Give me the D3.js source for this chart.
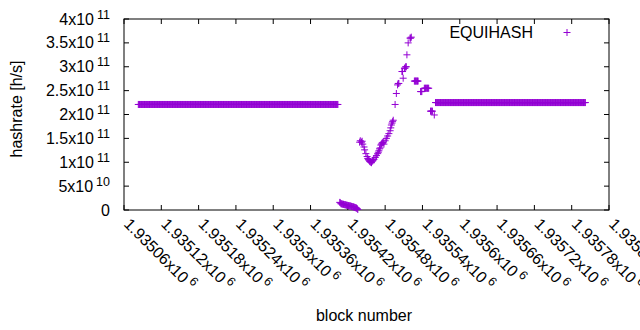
<!DOCTYPE html>
<html>
<head>
<meta charset="utf-8">
<script src="https://cdn.jsdelivr.net/npm/d3@7"></script>
<style>
  body { margin: 0; background: #fff; }
  text { font-family: "Liberation Sans", Arial, sans-serif; fill: #000; }
</style>
</head>
<body>
<div id="chart_area"></div>
<script>
// Hashrate per block.
// Long flat stretches are kept as runs: first block, last block, hashrate.
var flat_first = [1935083, 1935561];
var flat_last = [1935404, 1935802];
var flat_value = [2.21e11, 2.25e11];

// The dip and spike in between, one entry per block.
var mid_blocks = [
  1935407, 1935408, 1935409, 1935410, 1935411, 1935412, 1935413, 1935414, 1935415, 1935416, 1935417,
  1935418, 1935419, 1935420, 1935421, 1935422, 1935423, 1935424, 1935425, 1935426, 1935427,
  1935428, 1935429, 1935430, 1935431, 1935432, 1935433, 1935434, 1935435, 1935436,
  1935439, 1935440, 1935442, 1935443, 1935444, 1935446, 1935447, 1935449, 1935451, 1935452, 1935453,
  1935454, 1935455, 1935456, 1935457, 1935458, 1935459, 1935460, 1935461, 1935462, 1935464,
  1935466, 1935468, 1935469, 1935470, 1935471, 1935472, 1935473, 1935474, 1935475, 1935476,
  1935477, 1935478, 1935480, 1935482, 1935484, 1935486, 1935488, 1935489, 1935490, 1935491,
  1935492, 1935493,
  1935496, 1935498, 1935500, 1935501, 1935502, 1935507, 1935508, 1935509, 1935511, 1935512,
  1935513, 1935514, 1935515, 1935517, 1935520, 1935521, 1935522,
  1935527, 1935528, 1935529, 1935530, 1935531, 1935532, 1935533,
  1935537, 1935538, 1935539,
  1935543, 1935544, 1935545, 1935546, 1935547, 1935548, 1935549, 1935550,
  1935553, 1935554, 1935555, 1935556, 1935559
];
var mid_values = [
  1.6e10, 1.5e10, 1.3e10, 1.3e10, 1.25e10, 1.2e10, 1.2e10, 1.15e10, 1.1e10, 1.1e10, 1.05e10,
  1.0e10, 1.0e10, 0.95e10, 0.9e10, 0.9e10, 0.85e10, 0.85e10, 0.8e10, 0.75e10, 0.7e10,
  0.7e10, 0.65e10, 0.6e10, 0.55e10, 0.5e10, 0.45e10, 0.4e10, 0.3e10, 0.1e10,
  1.42e11, 1.45e11, 1.42e11, 1.44e11, 1.38e11, 1.32e11, 1.26e11, 1.18e11, 1.12e11, 1.08e11, 1.06e11,
  1.04e11, 1.02e11, 1.01e11, 1.0e11, 0.99e11, 1.02e11, 1.03e11, 1.05e11, 1.06e11, 1.1e11,
  1.14e11, 1.18e11, 1.21e11, 1.24e11, 1.28e11, 1.3e11, 1.36e11, 1.38e11, 1.4e11, 1.41e11,
  1.42e11, 1.38e11, 1.45e11, 1.5e11, 1.55e11, 1.6e11, 1.66e11, 1.72e11, 1.78e11, 1.82e11,
  1.85e11, 1.88e11,
  2.21e11, 2.44e11, 2.62e11, 2.65e11, 2.65e11, 2.9e11, 2.9e11, 2.76e11, 2.97e11, 2.97e11,
  3.0e11, 3.0e11, 3.25e11, 3.5e11, 3.6e11, 3.6e11, 3.62e11,
  2.7e11, 2.7e11, 2.7e11, 2.7e11, 2.7e11, 2.7e11, 2.7e11,
  2.48e11, 2.48e11, 2.48e11,
  2.55e11, 2.55e11, 2.55e11, 2.55e11, 2.55e11, 2.55e11, 2.55e11, 2.55e11,
  2.07e11, 2.07e11, 2.07e11, 2.07e11, 1.99e11
];

// Ticks
var x_ticks = d3.range(1935060, 1935841, 60);
var y_ticks = [0, 5e10, 1e11, 1.5e11, 2e11, 2.5e11, 3e11, 3.5e11, 4e11];

var series_name = "EQUIHASH";
var x_title = "block number";
var y_title = "hashrate [h/s]";

// put all the points together
var points = [];
for (var r = 0; r < flat_first.length; r++) {
  for (var b = flat_first[r]; b <= flat_last[r]; b++) {
    points.push({block: b, value: flat_value[r]});
  }
}
for (var i = 0; i < mid_blocks.length; i++) {
  points.push({block: mid_blocks[i], value: mid_values[i]});
}

var frame_width = 640, frame_height = 330;
var margin = {top: 19, right: 31, bottom: 120, left: 124};
var canvas_width = frame_width - margin.left - margin.right;
var canvas_height = frame_height - margin.top - margin.bottom;
var colour = "#9400d3";
var font_size = "16px", sup_size = "12.5px";

var frame = d3.select("#chart_area").append("svg")
  .attr("width", frame_width)
  .attr("height", frame_height);
var canvas = frame.append("g")
  .attr("transform", "translate(" + margin.left + "," + margin.top + ")");

var xScale = d3.scaleLinear().domain([1935060, 1935840]).range([0, canvas_width]);
var yScale = d3.scaleLinear().domain([0, 4e11]).range([canvas_height, 0]);

// splits a number into mantissa and exponent like gnuplot's "%g x10^{%T}"
function sci(v) {
  if (v === 0) return null;
  var e = Math.floor(Math.log10(Math.abs(v)) + 1e-9);
  var m = +(v / Math.pow(10, e)).toPrecision(6);
  return {m: String(m), e: String(e)};
}

// tick marks, inward on all four sides (gnuplot mirrors them)
var tick_len = 5;
canvas.append("g").selectAll("line").data(x_ticks).enter().append("line")
  .attr("x1", function(d) { return xScale(d); }).attr("x2", function(d) { return xScale(d); })
  .attr("y1", canvas_height).attr("y2", canvas_height - tick_len)
  .attr("stroke", "#000");
canvas.append("g").selectAll("line").data(x_ticks).enter().append("line")
  .attr("x1", function(d) { return xScale(d); }).attr("x2", function(d) { return xScale(d); })
  .attr("y1", 0).attr("y2", tick_len)
  .attr("stroke", "#000");
canvas.append("g").selectAll("line").data(y_ticks).enter().append("line")
  .attr("x1", 0).attr("x2", tick_len)
  .attr("y1", function(d) { return yScale(d); }).attr("y2", function(d) { return yScale(d); })
  .attr("stroke", "#000");
canvas.append("g").selectAll("line").data(y_ticks).enter().append("line")
  .attr("x1", canvas_width).attr("x2", canvas_width - tick_len)
  .attr("y1", function(d) { return yScale(d); }).attr("y2", function(d) { return yScale(d); })
  .attr("stroke", "#000");

// border
canvas.append("rect")
  .attr("x", 0).attr("y", 0)
  .attr("width", canvas_width).attr("height", canvas_height)
  .attr("fill", "none").attr("stroke", "#000").attr("stroke-width", 1);

// y tick labels
var ylab = canvas.append("g").selectAll("text").data(y_ticks).enter().append("text")
  .attr("x", -14)
  .attr("y", function(d) { return yScale(d) + 5.5; })
  .attr("text-anchor", "end")
  .style("font-size", font_size);
ylab.each(function(d) {
  var t = d3.select(this);
  var s = sci(d);
  if (!s) { t.text("0"); return; }
  t.append("tspan").text(s.m + "x10");
  t.append("tspan").attr("dx", 3).attr("dy", -6).style("font-size", sup_size).text(s.e);
});

// x tick labels, rotated
var xlab = canvas.append("g").selectAll("text").data(x_ticks).enter().append("text")
  .attr("transform", function(d) { return "translate(" + (xScale(d) - 1) + "," + (canvas_height + 15) + ") rotate(45)"; })
  .attr("text-anchor", "start")
  .style("font-size", font_size);
xlab.each(function(d) {
  var t = d3.select(this);
  var s = sci(d);
  t.append("tspan").text(s.m + "x10");
  t.append("tspan").attr("dx", 3).attr("dy", -6).style("font-size", sup_size).text(s.e);
});

// axis titles
frame.append("text")
  .attr("x", 364).attr("y", 321)
  .attr("text-anchor", "middle")
  .style("font-size", font_size)
  .text(x_title);
frame.append("text")
  .attr("transform", "translate(22," + 109 + ") rotate(-90)")
  .attr("text-anchor", "middle")
  .style("font-size", font_size)
  .text(y_title);

// the points, as gnuplot "+" markers
var plus = "M-3.5,0H3.5M0,-3.5V3.5";
var data_canvas = canvas.append("g").attr("class", "data_canvas");
data_canvas.selectAll(".dot").data(points).enter().append("path")
  .attr("class", "dot")
  .attr("d", plus)
  .attr("transform", function(d) { return "translate(" + xScale(d.block) + "," + yScale(d.value) + ")"; })
  .attr("fill", "none")
  .attr("stroke", colour)
  .attr("stroke-width", 1);

// key
frame.append("text")
  .attr("x", 533).attr("y", 37.5)
  .attr("text-anchor", "end")
  .style("font-size", font_size)
  .text(series_name);
frame.append("path")
  .attr("d", plus)
  .attr("transform", "translate(567,32.5)")
  .attr("fill", "none")
  .attr("stroke", colour)
  .attr("stroke-width", 1);
</script>
</body>
</html>
